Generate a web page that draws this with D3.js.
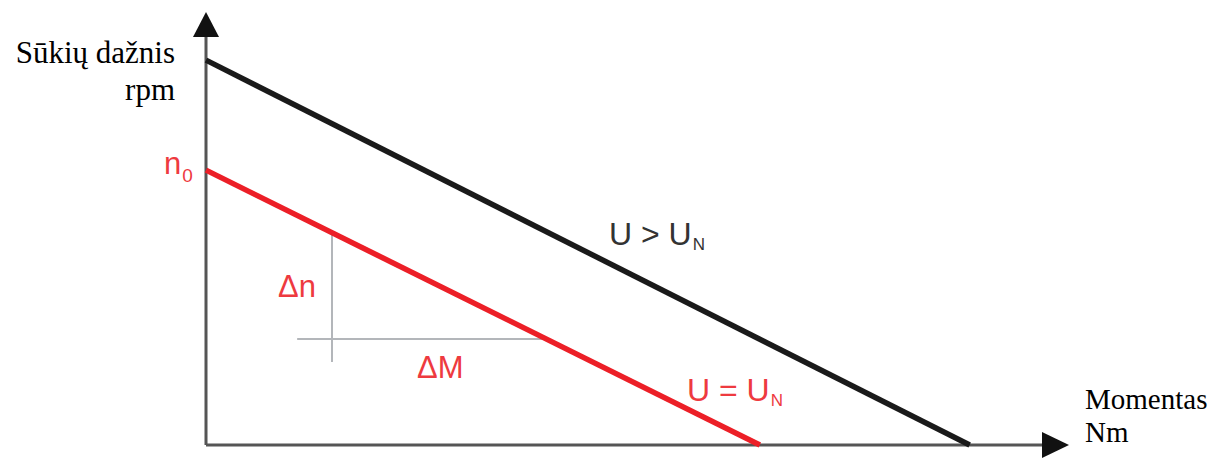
<!DOCTYPE html>
<html>
<head>
<meta charset="utf-8">
<script src="https://cdn.jsdelivr.net/npm/d3@7"></script>
<style>
  body { margin: 0; background: #fff; }
  .serif { font-family: "Liberation Serif", "Times New Roman", serif; }
  .sans { font-family: "Liberation Sans", Arial, sans-serif; }
</style>
</head>
<body>
<script>
// DATA (torque M, speed n in relative units)

let blackLine = [{ m: 0, n: 94.1 }, { m: 88.8, n: 0 }];   // U > UN
let redLine = [{ m: 0, n: 67.2 }, { m: 64.4, n: 0 }];     // U = UN
let deltaN = [{ m: 14.65, n: 52.2 }, { m: 14.65, n: 20.3 }];
let deltaM = [{ m: 10.6, n: 25.9 }, { m: 39.8, n: 25.9 }];

let yTitle = ["Sūkių dažnis", "rpm"];
let xTitle = ["Momentas", "Nm"];

// VISUALIZATION

let width = 1215;
let height = 458;

let svg = d3.select("body").append("svg")
    .attr("width", width)
    .attr("height", height);

let x_scale = d3.scaleLinear()
    .domain([0, 100])
    .range([206, 1066]);

let y_scale = d3.scaleLinear()
    .domain([0, 100])
    .range([445, 36]);

let line = d3.line()
    .x(d => x_scale(d.m))
    .y(d => y_scale(d.n));

// axes
let x0 = x_scale(0), y0 = y_scale(0);
svg.append("path")
    .attr("d", `M${x0},${y0} V37 M${x0},${y0} H1042`)
    .attr("fill", "none")
    .attr("stroke", "#555")
    .attr("stroke-width", 3);

svg.append("path")
    .attr("d", `M${x0},12 L${x0 - 13},37 L${x0 + 13},37 Z`)
    .attr("fill", "#111");

svg.append("path")
    .attr("d", `M1069,${y0} L1042,${y0 - 13} L1042,${y0 + 13} Z`)
    .attr("fill", "#111");

// delta helper lines
svg.append("path")
    .attr("d", line(deltaN))
    .attr("fill", "none")
    .attr("stroke", "#b3b6ba")
    .attr("stroke-width", 2);

svg.append("path")
    .attr("d", line(deltaM))
    .attr("fill", "none")
    .attr("stroke", "#b3b6ba")
    .attr("stroke-width", 2);

// characteristic lines
svg.append("path")
    .attr("d", line(blackLine))
    .attr("fill", "none")
    .attr("stroke", "#1a1a1a")
    .attr("stroke-width", 5.5);

svg.append("path")
    .attr("d", line(redLine))
    .attr("fill", "none")
    .attr("stroke", "#ec1f27")
    .attr("stroke-width", 5.5);

// axis titles
svg.append("text")
    .attr("class", "serif")
    .attr("text-anchor", "end")
    .style("font-size", "31px")
    .style("fill", "#000")
    .selectAll("tspan")
    .data(yTitle)
    .join("tspan")
    .attr("x", 175)
    .attr("y", (d, i) => 63 + i * 37)
    .text(d => d);

svg.append("text")
    .attr("class", "serif")
    .style("font-size", "29px")
    .style("fill", "#000")
    .selectAll("tspan")
    .data(xTitle)
    .join("tspan")
    .attr("x", 1085)
    .attr("y", (d, i) => 409 + i * 33)
    .text(d => d);

// annotations
let n0 = svg.append("text")
    .attr("class", "sans")
    .attr("x", 164)
    .attr("y", 174)
    .style("font-size", "31px")
    .style("fill", "#ee3a3f");
n0.append("tspan").text("n");
n0.append("tspan").attr("dy", 8).attr("dx", 1).style("font-size", "19px").text("0");

svg.append("text")
    .attr("class", "sans")
    .attr("x", 278)
    .attr("y", 297)
    .style("font-size", "31px")
    .style("fill", "#ee3a3f")
    .text("Δn");

svg.append("text")
    .attr("class", "sans")
    .attr("x", 417)
    .attr("y", 378)
    .style("font-size", "31px")
    .style("fill", "#ee3a3f")
    .text("ΔM");

let uGt = svg.append("text")
    .attr("class", "sans")
    .attr("x", 609)
    .attr("y", 245)
    .style("font-size", "32px")
    .style("fill", "#333");
uGt.append("tspan").text("U > U");
uGt.append("tspan").attr("dy", 5).attr("dx", 1).style("font-size", "17px").text("N");

let uEq = svg.append("text")
    .attr("class", "sans")
    .attr("x", 687)
    .attr("y", 401)
    .style("font-size", "32px")
    .style("fill", "#ee3a3f");
uEq.append("tspan").text("U = U");
uEq.append("tspan").attr("dy", 5).attr("dx", 1).style("font-size", "17px").text("N");
</script>
</body>
</html>
